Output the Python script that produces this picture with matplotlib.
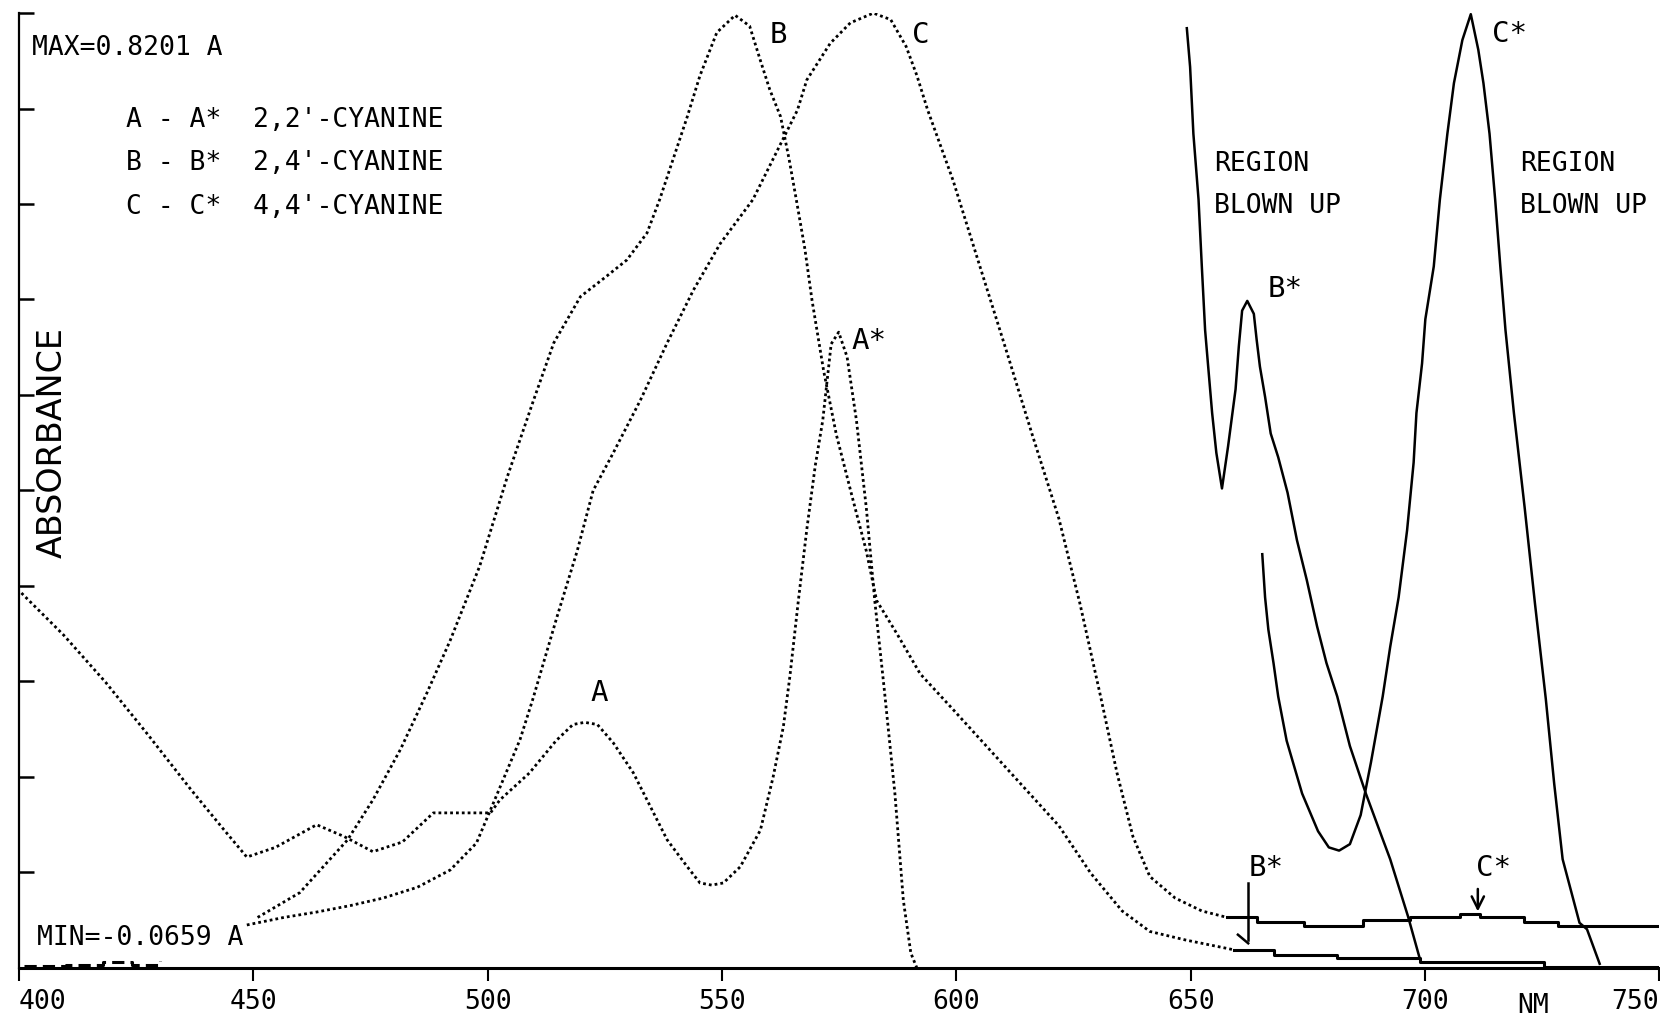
import matplotlib.pyplot as plt

# absorbance spectra of three cyanine dyes (plotter trace)
y_min, y_max = -0.0659, 0.8201

# A - 2,2'-cyanine (incl. the A* band at ~575 nm)
a_nm = [400.5, 409.5, 418.5, 427.6, 436.6, 443.4, 448.6, 454.7, 463.5, 469.4,
        475.5, 481.8, 488.4, 500.6, 502.6, 508.9, 514.6, 518.2, 520.7, 523.4,
        526.8, 531.1, 534.7, 538.3, 542.6, 545.3, 547.8, 550.3, 553.9, 558.2,
        560.9, 563.1, 564.5, 566.3, 568.1, 569.9, 571.5, 573.3, 574.9, 576.7,
        578.7, 580.8, 582.6, 584.6, 586.9, 588.7, 590.3, 591.6]
a_abs = [0.282, 0.243, 0.199, 0.150, 0.100, 0.064, 0.037, 0.046, 0.067, 0.056,
         0.042, 0.051, 0.078, 0.078, 0.090, 0.115, 0.145, 0.160, 0.162, 0.160,
         0.143, 0.115, 0.084, 0.053, 0.028, 0.013, 0.011, 0.013, 0.028, 0.062,
         0.111, 0.158, 0.205, 0.275, 0.341, 0.400, 0.442, 0.513, 0.524, 0.501,
         0.442, 0.361, 0.275, 0.194, 0.096, -0.003, -0.052, -0.066]

# B - 2,4'-cyanine
b_nm = [450.9, 459.9, 470.1, 475.5, 481.4, 487.0, 492.0, 498.3, 504.2, 509.8,
        514.1, 519.8, 525.4, 529.7, 534.0, 536.7, 542.6, 545.3, 548.9, 552.8,
        555.9, 558.2, 560.2, 562.5, 564.3, 565.9, 567.7, 569.2, 571.7, 574.4,
        577.8, 580.8, 583.0, 587.5, 592.3, 599.3, 610.6, 621.9, 628.7, 635.4,
        641.3, 649.0, 659.2]
b_abs = [-0.019, 0.004, 0.053, 0.090, 0.137, 0.189, 0.238, 0.307, 0.390, 0.461,
         0.514, 0.557, 0.576, 0.591, 0.616, 0.647, 0.724, 0.762, 0.802, 0.818,
         0.808, 0.776, 0.749, 0.724, 0.685, 0.646, 0.601, 0.554, 0.488, 0.429,
         0.371, 0.321, 0.275, 0.243, 0.207, 0.174, 0.120, 0.066, 0.022, -0.013,
         -0.032, -0.040, -0.049]
b_tail_nm = [659.2, 667.7, 681.3, 698.9, 725.4, 750.0]
b_tail_abs = [-0.049, -0.054, -0.057, -0.060, -0.065, -0.065]

# C - 4,4'-cyanine
c_nm = [448.6, 456.5, 463.5, 470.7, 477.7, 485.0, 492.0, 497.6, 501.2, 506.9,
        509.6, 514.8, 519.1, 522.5, 526.8, 532.6, 538.3, 543.9, 549.6, 556.6,
        566.1, 568.1, 573.1, 577.4, 582.3, 586.0, 589.3, 591.6, 593.9, 599.3,
        604.9, 610.6, 616.2, 621.9, 626.4, 630.9, 634.3, 637.7, 641.3, 646.7,
        652.4, 657.8]
c_abs = [-0.026, -0.019, -0.014, -0.008, -0.001, 0.009, 0.025, 0.050, 0.087, 0.146,
         0.183, 0.260, 0.321, 0.377, 0.412, 0.461, 0.514, 0.563, 0.606, 0.647,
         0.730, 0.758, 0.792, 0.811, 0.820, 0.814, 0.789, 0.762, 0.730, 0.665,
         0.587, 0.508, 0.429, 0.351, 0.272, 0.184, 0.115, 0.056, 0.019, -0.001,
         -0.013, -0.019]
c_tail_nm = [657.8, 664.1, 674.1, 686.7, 696.9, 707.5, 711.8, 721.1, 728.5, 750.0]
c_tail_abs = [-0.019, -0.023, -0.027, -0.021, -0.019, -0.016, -0.019, -0.023, -0.027, -0.027]

# region blown up: B*
bs_nm = [649.2, 649.9, 650.6, 651.7, 652.4, 653.1, 653.7, 654.6, 655.5, 656.7,
         658.0, 659.6, 660.3, 661.0, 662.1, 663.5, 664.1, 664.8, 665.9, 667.1,
         668.7, 670.7, 672.7, 674.8, 677.0, 679.0, 681.3, 684.0, 687.4, 690.8,
         692.6, 696.4, 698.9]
bs_abs = [0.806, 0.770, 0.708, 0.647, 0.585, 0.526, 0.495, 0.449, 0.412, 0.379,
          0.418, 0.471, 0.511, 0.544, 0.553, 0.541, 0.517, 0.492, 0.464, 0.430,
          0.408, 0.375, 0.331, 0.294, 0.251, 0.217, 0.186, 0.140, 0.096, 0.056,
          0.035, -0.018, -0.057]

# region blown up: C*
cs_nm = [665.3, 665.9, 666.6, 667.7, 668.7, 670.5, 673.8, 677.2, 679.5, 681.7,
         684.0, 686.3, 688.5, 691.0, 692.6, 694.4, 696.2, 697.6, 698.2, 699.4,
         700.1, 701.9, 703.2, 704.8, 706.2, 708.0, 709.8, 711.4, 712.5, 713.8,
         715.0, 716.1, 717.2, 719.0, 721.3, 723.5, 725.8, 727.6, 729.4, 733.0,
         734.6, 737.3]
cs_abs = [0.318, 0.278, 0.248, 0.217, 0.186, 0.145, 0.096, 0.061, 0.046, 0.043,
          0.049, 0.076, 0.125, 0.186, 0.232, 0.278, 0.340, 0.403, 0.449, 0.495,
          0.536, 0.585, 0.647, 0.708, 0.755, 0.795, 0.819, 0.786, 0.755, 0.708,
          0.647, 0.585, 0.526, 0.449, 0.361, 0.272, 0.184, 0.105, 0.035, -0.024,
          -0.030, -0.062]

# plotter noise on the baseline at the far left
noise_nm = [401.0, 410.0, 418.0, 424.0, 430.0]
noise_abs = [-0.064, -0.063, -0.060, -0.063, -0.059]

x_ticks = [400, 450, 500, 550, 600, 650, 700, 750]
x_labels = ['400', '450', '500', '550', '600', '650', '700', '750']

plt.rcParams['font.family'] = ['DejaVu Sans Mono', 'DejaVu Sans']

fig = plt.figure(figsize=(16.6, 10.24), dpi=100)
ax = fig.add_axes([0.0115, 0.0547, 0.988, 0.9326])

dot = (0, (1, 1.1))
ax.plot(a_nm, a_abs, color='black', lw=2.0, linestyle=dot)
ax.plot(b_nm, b_abs, color='black', lw=2.0, linestyle=dot)
ax.plot(c_nm, c_abs, color='black', lw=2.0, linestyle=dot)
ax.plot(b_tail_nm, b_tail_abs, color='black', lw=2.2, drawstyle='steps-post')
ax.plot(c_tail_nm, c_tail_abs, color='black', lw=2.2, drawstyle='steps-post')
ax.plot(bs_nm, bs_abs, color='black', lw=1.8)
ax.plot(cs_nm, cs_abs, color='black', lw=1.8)
ax.plot(noise_nm, noise_abs, color='black', lw=2.2, drawstyle='steps-post',
        linestyle=(0, (4, 2)))

# peak labels
fs = 19
pk = 21
ax.text(523.8, 0.189, 'A', fontsize=pk, ha='center', va='center')
ax.text(560.2, 0.800, 'B', fontsize=pk, ha='left', va='center')
ax.text(590.6, 0.800, 'C', fontsize=pk, ha='left', va='center')
ax.text(577.6, 0.516, 'A*', fontsize=pk, ha='left', va='center')
ax.text(666.5, 0.564, 'B*', fontsize=pk, ha='left', va='center')
ax.text(714.4, 0.801, 'C*', fontsize=pk, ha='left', va='center')
for x0 in [655.0, 720.4]:
    ax.text(x0, 0.680, 'REGION', fontsize=fs, ha='left', va='center')
    ax.text(x0, 0.641, 'BLOWN UP', fontsize=fs, ha='left', va='center')

# markers for the blown-up bands on the real-scale traces
ax.text(662.3, 0.027, 'B*', fontsize=pk, ha='left', va='center')
ax.plot([662.3, 662.3], [0.013, -0.040], color='black', lw=1.8)
ax.plot([660.1, 662.3], [-0.035, -0.043], color='black', lw=1.8)
ax.text(711.0, 0.027, 'C*', fontsize=pk, ha='left', va='center')
ax.annotate('', xy=(711.3, -0.016), xytext=(711.3, 0.010),
            arrowprops=dict(arrowstyle='->', lw=1.8, color='black',
                            mutation_scale=22))

# header / legend text
ax.text(0.008, 0.963, 'MAX=0.8201 A', transform=ax.transAxes, fontsize=fs,
        ha='left', va='center')
legend_lines = ["A - A*  2,2'-CYANINE", "B - B*  2,4'-CYANINE", "C - C*  4,4'-CYANINE"]
for i, line in enumerate(legend_lines):
    ax.text(0.065, 0.888 - i * 0.0455, line, transform=ax.transAxes, fontsize=fs,
            ha='left', va='center')
ax.text(0.011, 0.031, 'MIN=-0.0659 A', transform=ax.transAxes, fontsize=fs,
        ha='left', va='center')
ax.text(0.0205, 0.55, 'ABSORBANCE', transform=ax.transAxes, fontsize=24,
        family='DejaVu Sans', rotation=90, ha='center', va='center')

ax.set_xlim(400, 750)
ax.set_ylim(y_min, y_max)
ax.set_xticks(x_ticks)
ax.set_xticklabels(x_labels, fontsize=19)
ax.get_xticklabels()[0].set_ha('left')
ax.get_xticklabels()[-1].set_ha('right')
ax.text(723, -0.026, 'NM', transform=ax.get_xaxis_transform(), fontsize=19,
        ha='center', va='top')
ax.set_yticks([y_min + (y_max - y_min) * i / 10 for i in range(11)])
ax.set_yticklabels([])
ax.tick_params(axis='x', direction='out', length=9, width=1.5, pad=6)
ax.tick_params(axis='y', direction='in', length=11, width=1.8)
for side in ['top', 'right']:
    ax.spines[side].set_visible(False)
ax.spines['left'].set_linewidth(1.6)
ax.spines['bottom'].set_linewidth(2.2)

fig.savefig('out.png', dpi=100)
